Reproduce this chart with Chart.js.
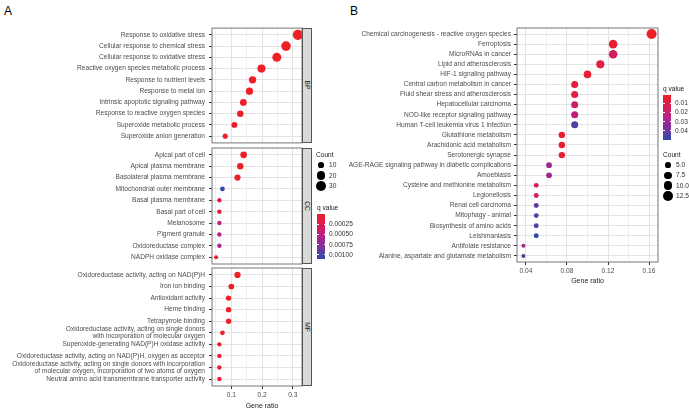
<!DOCTYPE html>
<html>
<head>
<meta charset="utf-8">
<script src="https://cdn.jsdelivr.net/npm/chart.js@4.4.1/dist/chart.umd.min.js"></script>
<style>
  body { margin: 0; background: #fff; }
  #wrap { position: relative; width: 689px; height: 412px; overflow: hidden; font-family: "Liberation Sans", Arial, sans-serif; }
  canvas { position: absolute; }
  .tag { position: absolute; font-size: 12px; line-height: 1; color: #000; }
  .strip { position: absolute; box-sizing: border-box; background: #D9D9D9; border: 1px solid #555; }
  .strip span { position: absolute; left: 50%; top: 50%; transform: translate(-50%, -50%) rotate(90deg); font-size: 6.6px; line-height: 1; color: #1A1A1A; white-space: nowrap; }
  .txt { position: absolute; font-size: 6.6px; line-height: 1; color: #333; white-space: nowrap; transform: translateY(-50%); }
  .dot { position: absolute; border-radius: 50%; background: #000; }
  .bar { position: absolute; }
</style>
</head>
<body>
<div id="wrap">
  <div class="tag" style="left:4px;top:5px">A</div>
  <div class="tag" style="left:350px;top:5px">B</div>
  <canvas id="bp" width="312" height="125" style="left:0;top:23px"></canvas>
  <canvas id="cc" width="312" height="124" style="left:0;top:144px"></canvas>
  <canvas id="mf" width="312" height="148" style="left:0;top:264px"></canvas>
  <canvas id="kegg" width="340" height="265" style="left:330px;top:23px"></canvas>
</div>
<script>
// ---- panel A: GO terms ----
const bpTerms = [
    'Response to oxidative stress',
    'Cellular response to chemical stress',
    'Cellular response to oxidative stress',
    'Reactive oxygen species metabolic process',
    'Response to nutrient levels',
    'Response to metal ion',
    'Intrinsic apoptotic signaling pathway',
    'Response to reactive oxygen species',
    'Superoxide metabolic process',
    'Superoxide anion generation',
];
const bpRatio = [0.3167, 0.278, 0.248, 0.198, 0.169, 0.159, 0.139, 0.129, 0.11, 0.08];
const bpCount = [32, 28, 25, 20, 17, 16, 14, 13, 11, 8];
const bpQ = [2e-9, 5e-9, 1e-8, 3e-7, 2e-6, 4e-6, 8e-6, 1e-5, 1.2e-5, 1.4e-5];

const ccTerms = [
    'Apical part of cell',
    'Apical plasma membrane',
    'Basolateral plasma membrane',
    'Mitochondrial outer membrane',
    'Basal plasma membrane',
    'Basal part of cell',
    'Melanosome',
    'Pigment granule',
    'Oxidoreductase complex',
    'NADPH oxidase complex',
];
const ccRatio = [0.14, 0.129, 0.12, 0.071, 0.061, 0.061, 0.061, 0.061, 0.061, 0.0503];
const ccCount = [14, 13, 12, 7, 6, 6, 6, 6, 6, 5];
const ccQ = [3e-6, 8e-6, 2e-5, 0.0011, 0.00016, 0.00016, 0.00056, 0.00058, 0.0006, 0.0001];

const mfTerms = [
    'Oxidoreductase activity, acting on NAD(P)H',
    'Iron ion binding',
    'Antioxidant activity',
    'Heme binding',
    'Tetrapyrrole binding',
    'Oxidoreductase activity, acting on single donors\nwith incorporation of molecular oxygen',
    'Superoxide-generating NAD(P)H oxidase activity',
    'Oxidoreductase activity, acting on NAD(P)H, oxygen as acceptor',
    'Oxidoreductase activity, acting on single donors with incorporation\nof molecular oxygen, incorporation of two atoms of oxygen',
    'Neutral amino acid transmembrane transporter activity',
];
const mfRatio = [0.12, 0.1, 0.091, 0.091, 0.091, 0.071, 0.061, 0.061, 0.061, 0.061];
const mfCount = [12, 10, 9, 9, 9, 7, 6, 6, 6, 6];
const mfQ = [1e-6, 4e-6, 5e-6, 2e-5, 3e-5, 4e-5, 5e-5, 6e-5, 8e-5, 1e-4];

const goGrid = [0.05, 0.1, 0.15, 0.2, 0.25, 0.3];
const goTicks = [0.1, 0.2, 0.3];
const goCountLegend = [10, 20, 30];
const goQLegend = [0.00025, 0.0005, 0.00075, 0.001];

// ---- panel B: KEGG pathways ----
const keggTerms = [
    'Chemical carcinogenesis - reactive oxygen species',
    'Ferroptosis',
    'MicroRNAs in cancer',
    'Lipid and atherosclerosis',
    'HIF-1 signaling pathway',
    'Central carbon metabolism in cancer',
    'Fluid shear stress and atherosclerosis',
    'Hepatocellular carcinoma',
    'NOD-like receptor signaling pathway',
    'Human T-cell leukemia virus 1 infection',
    'Glutathione metabolism',
    'Arachidonic acid metabolism',
    'Serotonergic synapse',
    'AGE-RAGE signaling pathway in diabetic complications',
    'Amoebiasis',
    'Cysteine and methionine metabolism',
    'Legionellosis',
    'Renal cell carcinoma',
    'Mitophagy - animal',
    'Biosynthesis of amino acids',
    'Leishmaniasis',
    'Antifolate resistance',
    'Alanine, aspartate and glutamate metabolism',
];
const keggRatio = [0.1625, 0.125, 0.125, 0.1125, 0.1, 0.0875, 0.0875, 0.0875, 0.0875, 0.0875,
    0.075, 0.075, 0.075, 0.0625, 0.0625, 0.05, 0.05, 0.05, 0.05, 0.05, 0.05, 0.0375, 0.0375];
const keggCount = [13, 10, 10, 9, 8, 7, 7, 7, 7, 7, 6, 6, 6, 5, 5, 4, 4, 4, 4, 4, 4, 3, 3];
const keggQ = [0.001, 0.004, 0.016, 0.008, 0.005, 0.006, 0.009, 0.018, 0.022, 0.045, 0.004, 0.005,
    0.006, 0.031, 0.031, 0.016, 0.016, 0.042, 0.043, 0.043, 0.05, 0.029, 0.045];

const keggGrid = [0.04, 0.06, 0.08, 0.1, 0.12, 0.14, 0.16];
const keggTicks = [0.04, 0.08, 0.12, 0.16];
const keggCountLegend = [5, 7.5, 10, 12.5];
const keggQLegend = [0.01, 0.02, 0.03, 0.04];

const FONT = '"Liberation Sans", Arial, sans-serif';
Chart.defaults.font.family = FONT;

// red -> magenta -> blue, low q on top
const colorStops = [
    [0, [238, 32, 38]],
    [0.3, [212, 28, 96]],
    [0.5, [183, 32, 138]],
    [0.75, [120, 52, 156]],
    [1, [45, 74, 172]],
];

function gradColor(t) {
    t = Math.max(0, Math.min(1, t));
    for (let i = 1; i < colorStops.length; i++) {
        const [t1, c1] = colorStops[i];
        const [t0, c0] = colorStops[i - 1];
        if (t <= t1) {
            const k = (t - t0) / (t1 - t0);
            const c = c0.map((v, j) => Math.round(v + (c1[j] - v) * k));
            return `rgb(${c[0]},${c[1]},${c[2]})`;
        }
    }
    return 'rgb(45,74,172)';
}

function radius(count, s) {
    const t = (count - s.min) / (s.max - s.min);
    return Math.sqrt(s.rMin * s.rMin + t * (s.rMax * s.rMax - s.rMin * s.rMin));
}

const goQ = bpQ.concat(ccQ, mfQ);
const goRange = [Math.min(...goQ), Math.max(...goQ)];
const keggRange = [Math.min(...keggQ), Math.max(...keggQ)];
const goSize = { min: 5, max: 32, rMin: 2, rMax: 5.1 };
const keggSize = { min: 3, max: 13, rMin: 2, rMax: 5 };

const panelBorder = {
    id: 'panelBorder',
    afterDatasetsDraw(chart) {
        const a = chart.chartArea;
        const ctx = chart.ctx;
        ctx.save();
        ctx.strokeStyle = '#777';
        ctx.lineWidth = 1;
        ctx.strokeRect(a.left, a.top, a.right - a.left, a.bottom - a.top);
        ctx.restore();
    },
};

function dotPlot(id, terms, ratio, count, q, o) {
    const isMajor = v => o.ticks.includes(v);
    const points = terms.map((t, i) => ({ x: ratio[i], y: i, r: radius(count[i], o.size) }));
    return new Chart(document.getElementById(id), {
        type: 'bubble',
        data: {
            datasets: [{
                data: points,
                backgroundColor: q.map(v => gradColor((v - o.qRange[0]) / (o.qRange[1] - o.qRange[0]))),
                borderWidth: 0,
                clip: false,
            }],
        },
        options: {
            responsive: false,
            animation: false,
            events: [],
            layout: { padding: o.padding },
            plugins: { legend: { display: false }, tooltip: { enabled: false } },
            scales: {
                x: {
                    type: 'linear',
                    min: o.xMin,
                    max: o.xMax,
                    afterBuildTicks: s => { s.ticks = o.grid.map(v => ({ value: v })); },
                    afterFit: s => {
                        s.height = o.showX ? 26 : 0;
                        s.paddingLeft = 0;
                        s.paddingRight = 0;
                    },
                    ticks: {
                        display: o.showX,
                        autoSkip: false,
                        maxRotation: 0,
                        padding: 2,
                        color: '#4D4D4D',
                        font: { size: 6.6 },
                        callback: v => (isMajor(v) ? String(v) : ''),
                    },
                    grid: {
                        color: c => (c.tick && isMajor(c.tick.value) ? '#E3E3E3' : '#F0F0F0'),
                        tickLength: 3,
                        drawTicks: o.showX,
                        tickColor: c => (c.tick && isMajor(c.tick.value) ? '#333' : 'rgba(0,0,0,0)'),
                    },
                    border: { display: false },
                    title: {
                        display: o.showX && o.title,
                        text: 'Gene ratio',
                        color: '#1A1A1A',
                        font: { size: 7 },
                        padding: { top: 0, bottom: 3 },
                    },
                },
                y: {
                    type: 'linear',
                    reverse: true,
                    min: -0.6,
                    max: terms.length - 0.4,
                    afterBuildTicks: s => { s.ticks = terms.map((_, i) => ({ value: i })); },
                    afterFit: s => {
                        s.width = o.yWidth;
                        s.paddingTop = 0;
                        s.paddingBottom = 0;
                    },
                    ticks: {
                        autoSkip: false,
                        padding: o.labelPad,
                        color: '#4D4D4D',
                        font: { size: 6.6, lineHeight: 1.1 },
                        callback: v => (terms[v] || '').split('\n'),
                    },
                    grid: { color: '#E3E3E3', tickLength: 3, tickColor: '#333' },
                    border: { display: false },
                },
            },
        },
        plugins: [panelBorder],
    });
}

const goOpts = {
    xMin: 0.037, xMax: 0.33, grid: goGrid, ticks: goTicks, size: goSize, qRange: goRange,
    yWidth: 212, labelPad: 4, title: false,
};

const bpChart = dotPlot('bp', bpTerms, bpRatio, bpCount, bpQ,
    Object.assign({}, goOpts, { showX: false, padding: { top: 4, bottom: 4, left: 0, right: 10 } }));
const ccChart = dotPlot('cc', ccTerms, ccRatio, ccCount, ccQ,
    Object.assign({}, goOpts, { showX: false, padding: { top: 3.5, bottom: 3.5, left: 0, right: 10 } }));
const mfChart = dotPlot('mf', mfTerms, mfRatio, mfCount, mfQ,
    Object.assign({}, goOpts, { showX: true, padding: { top: 4, bottom: 0, left: 0, right: 10 } }));

const keggChart = dotPlot('kegg', keggTerms, keggRatio, keggCount, keggQ, {
    xMin: 0.03125, xMax: 0.16875, grid: keggGrid, ticks: keggTicks, size: keggSize, qRange: keggRange,
    yWidth: 187, labelPad: 3, title: true, showX: true,
    padding: { top: 4, bottom: 0, left: 0, right: 12 },
});

// ---- html extras: strips, legends ----
const wrap = document.getElementById('wrap');

function addText(text, x, y, color) {
    const d = document.createElement('div');
    d.className = 'txt';
    d.textContent = text;
    d.style.left = x + 'px';
    d.style.top = y + 'px';
    if (color) d.style.color = color;
    wrap.appendChild(d);
    return d;
}

function addStrip(chart, text) {
    const a = chart.chartArea;
    const c = chart.canvas;
    const d = document.createElement('div');
    d.className = 'strip';
    d.style.left = (c.offsetLeft + a.right) + 'px';
    d.style.top = (c.offsetTop + a.top) + 'px';
    d.style.width = '10px';
    d.style.height = (a.bottom - a.top) + 'px';
    const s = document.createElement('span');
    s.textContent = text;
    d.appendChild(s);
    wrap.appendChild(d);
}

addStrip(bpChart, 'BP');
addStrip(ccChart, 'CC');
addStrip(mfChart, 'MF');

// x title of panel A is centred on panel + strip
const mfArea = mfChart.chartArea;
const goTitle = addText('Gene ratio', 0, 405, '#1A1A1A');
goTitle.style.fontSize = '7px';
goTitle.style.left = ((mfArea.left + mfArea.right + 10) / 2) + 'px';
goTitle.style.transform = 'translate(-50%, -50%)';

function countLegend(values, size, x, y, step, fmt) {
    addText('Count', x - 5, y - 10, '#1A1A1A');
    values.forEach((v, i) => {
        const r = radius(v, size);
        const cy = y + i * step;
        const d = document.createElement('div');
        d.className = 'dot';
        d.style.left = (x - r) + 'px';
        d.style.top = (cy - r) + 'px';
        d.style.width = d.style.height = (2 * r) + 'px';
        wrap.appendChild(d);
        addText(fmt(v), x + 8, cy);
    });
}

function qLegend(values, range, x, y, w, h, fmt) {
    addText('q value', x, y - 6, '#1A1A1A');
    const stops = [];
    for (let i = 0; i <= 20; i++) stops.push(`${gradColor(i / 20)} ${i * 5}%`);
    const bar = document.createElement('div');
    bar.className = 'bar';
    bar.style.left = x + 'px';
    bar.style.top = y + 'px';
    bar.style.width = w + 'px';
    bar.style.height = h + 'px';
    bar.style.background = `linear-gradient(to bottom, ${stops.join(', ')})`;
    wrap.appendChild(bar);
    values.forEach(v => {
        const ty = y + (v - range[0]) / (range[1] - range[0]) * h;
        [x, x + w - 1.5].forEach(tx => {
            const t = document.createElement('div');
            t.className = 'bar';
            t.style.left = tx + 'px';
            t.style.top = (ty - 0.5) + 'px';
            t.style.width = '1.5px';
            t.style.height = '1px';
            t.style.background = '#fff';
            wrap.appendChild(t);
        });
        addText(fmt(v), x + w + 4, ty);
    });
}

countLegend(goCountLegend, goSize, 321, 165, 10.5, v => String(v));
qLegend(goQLegend, goRange, 317, 214, 8, 45, v => v.toFixed(5));

qLegend(keggQLegend, keggRange, 663, 95, 8, 45, v => v.toFixed(2));
countLegend(keggCountLegend, keggSize, 668, 165, 10.3, v => v.toFixed(1));
</script>
</body>
</html>
